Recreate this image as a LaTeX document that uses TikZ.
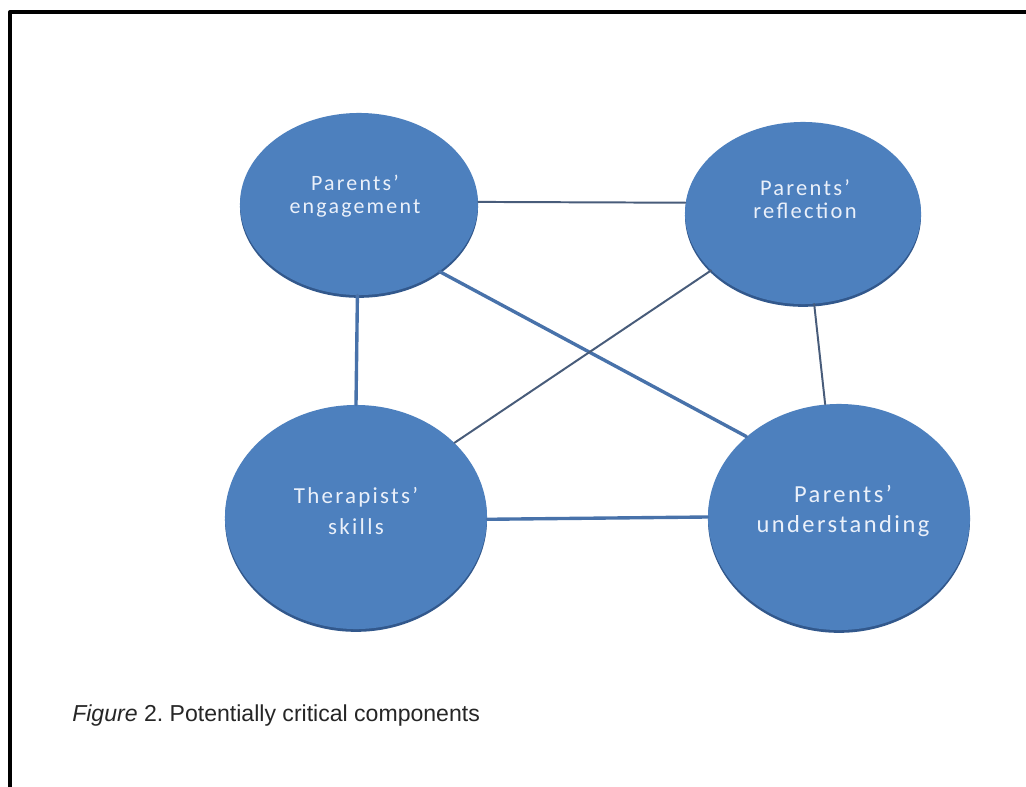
\documentclass[tikz,border=0pt]{standalone}
\usepackage{fontspec}
\setmainfont{Liberation Sans}
\newfontfamily\diskfont[LetterSpace=10]{Carlito}
\usetikzlibrary{shapes.geometric,shadows}
\definecolor{diskblue}{RGB}{77,128,190}
\definecolor{diskrim}{RGB}{50,88,140}
\definecolor{disktext}{RGB}{234,240,250}
\definecolor{linkdark}{RGB}{72,92,122}
\definecolor{linkblue}{RGB}{72,114,170}
\frenchspacing

\begin{document}
\begin{tikzpicture}[x=0.025cm,y=-0.025cm,line cap=round,line join=round,
disk/.style={ellipse,fill=diskblue,inner sep=0pt,general shadow={shadow yshift=-2pt,fill=diskrim}},
disklabel/.style={text=disktext,align=center,inner sep=0pt},
thinlink/.style={draw=linkdark,line width=1.4pt},
thicklink/.style={draw=linkblue,line width=2.4pt}]
\useasboundingbox (0,0) rectangle (1026,787);
\fill[white] (0,0) rectangle (1026,787);
\draw[line width=2.8pt] (10,800) -- (10,12) -- (1040,12);
\node[disk,minimum width=5.95cm,minimum height=4.55cm] (eng) at (359,204) {};
\node[disk,minimum width=5.9cm,minimum height=4.55cm] (refl) at (803,213) {};
\node[disk,minimum width=6.55cm,minimum height=5.6cm] (ther) at (356,517) {};
\node[disk,minimum width=6.55cm,minimum height=5.65cm] (und) at (839,517) {};
\node[disklabel,font=\diskfont\fontsize{15.6}{16.3}\selectfont] (engtext) at (355,196) {Parents’\\engagement};
\node[disklabel,font=\diskfont\fontsize{16}{16.3}\selectfont] (refltext) at (805,199) {Parents’\\reflection};
\node[disklabel,font=\diskfont\fontsize{16.3}{22.7}\selectfont] (thertext) at (356,511) {Therapists’\\skills};
\node[disklabel,font=\diskfont\fontsize{17.4}{22}\selectfont] (undtext) at (843,511) {Parents’\\understanding};
\draw[thinlink] (eng.1.5) -- (refl.175);
\draw[thicklink] (eng.-91) -- (ther.90);
\draw[thicklink] (eng.-40) -- (und.139);
\draw[thinlink] (refl.-148) -- (ther.37);
\draw[thinlink] (refl.-83) -- (und.97);
\draw[thicklink] (ther.-1) -- (und.180);
\node[anchor=west,inner sep=0pt,text=black!85,font=\fontsize{16.4}{19}\selectfont] (caption) at (72,716) {\textit{Figure} 2. Potentially critical components};
\end{tikzpicture}
\end{document}
